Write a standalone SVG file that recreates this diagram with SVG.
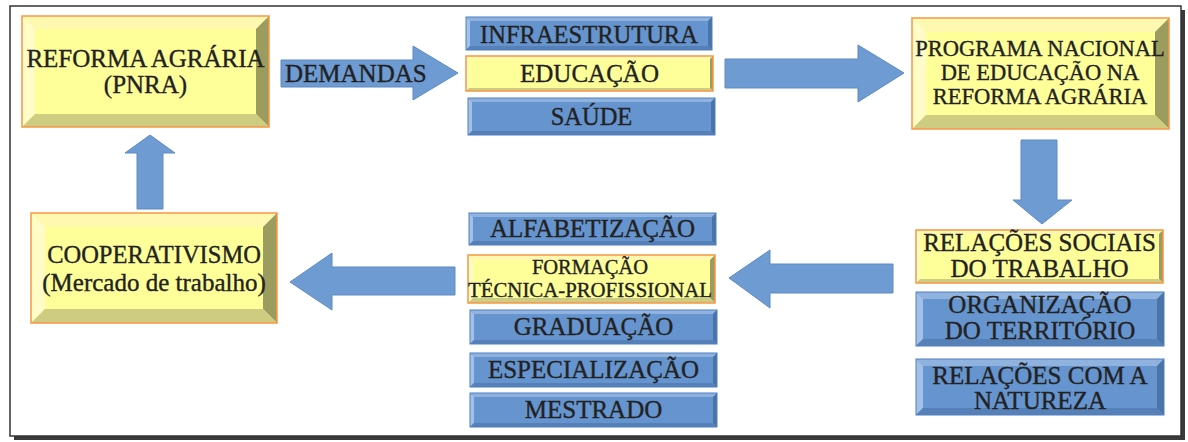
<svg xmlns="http://www.w3.org/2000/svg" width="1188" height="442" viewBox="0 0 1188 442">
<style>
.t{font-family:"Liberation Serif","Times New Roman",serif;fill:#222222;stroke:#222222;stroke-width:0.35;text-anchor:middle}
.yf{fill:#ffff99}.yt{fill:#fff8b0}.yl{fill:#fffcc8}.yr{fill:#9c9c5e}.yb{fill:#cdcc80}
.ybd{fill:none;stroke:#f79646;stroke-width:1.5}
.bf{fill:#6694ce}.bt{fill:#8fb2de}.bl{fill:#a3c0e6}.br{fill:#4a73a8}.bb{fill:#5680b8}
.bbd{fill:none;stroke:#4f7fbf;stroke-width:1}
.arr{fill:#6d9bd2;stroke:#5d8bc4;stroke-width:1}
</style>
<rect x="14" y="10" width="1171" height="430" fill="#3a3a3a"/>
<rect x="10" y="6" width="1171" height="430" fill="#ffffff" stroke="#333" stroke-width="1.5"/>

<g id="connectors">
<polygon class="arr" points="281,60 413,60 413,46 458,73 413,100 413,87 281,87"/>
<text class="t" x="285" y="82" font-size="25" style="text-anchor:start">DEMANDAS</text>
<polygon class="arr" points="725,59 858,59 858,45 904,73 858,102 858,88 725,88"/>
<polygon class="arr" points="1021,140 1057,140 1057,200 1072,200 1042,224 1013,200 1021,200"/>
<polygon class="arr" points="893,264 770,264 770,250 729,278 770,308 770,293 893,293"/>
<polygon class="arr" points="455,267 332,267 332,253 290,282 332,310 332,295 455,295"/>
<polygon class="arr" points="137,209 137,153 125,153 150,135 175,153 163,153 163,209"/>
</g>

<g id="reforma">
<rect class="yf" x="22" y="16" width="247" height="111"/>
<polygon class="yt" points="22,16 269,16 256,29 35,29"/>
<polygon class="yl" points="22,16 35,29 35,114 22,127"/>
<polygon class="yr" points="269,16 269,127 256,114 256,29"/>
<polygon class="yb" points="22,127 35,114 256,114 269,127"/>
<rect class="ybd" x="22" y="16" width="247" height="111"/>
<text class="t" x="145.5" y="67" font-size="25">REFORMA AGRÁRIA</text>
<text class="t" x="145.5" y="93" font-size="25">(PNRA)</text>
</g>

<g id="infraestrutura">
<rect class="bf" x="466" y="17" width="246" height="33"/>
<polygon class="bt" points="466,17 712,17 708,21 470,21"/>
<polygon class="bl" points="466,17 470,21 470,46 466,50"/>
<polygon class="br" points="712,17 712,50 708,46 708,21"/>
<polygon class="bb" points="466,50 470,46 708,46 712,50"/>
<rect class="bbd" x="466" y="17" width="246" height="33"/>
<text class="t" x="589" y="43" font-size="24.5">INFRAESTRUTURA</text>
</g>

<g id="educacao">
<rect class="yf" x="466" y="56" width="247" height="35"/>
<polygon class="yt" points="466,56 713,56 710,59 469,59"/>
<polygon class="yl" points="466,56 469,59 469,88 466,91"/>
<polygon class="yr" points="713,56 713,91 710,88 710,59"/>
<polygon class="yb" points="466,91 469,88 710,88 713,91"/>
<rect class="ybd" x="466" y="56" width="247" height="35"/>
<text class="t" x="589.5" y="82" font-size="25">EDUCAÇÃO</text>
</g>

<g id="saude">
<rect class="bf" x="468" y="98" width="247" height="37"/>
<polygon class="bt" points="468,98 715,98 711,102 472,102"/>
<polygon class="bl" points="468,98 472,102 472,131 468,135"/>
<polygon class="br" points="715,98 715,135 711,131 711,102"/>
<polygon class="bb" points="468,135 472,131 711,131 715,135"/>
<rect class="bbd" x="468" y="98" width="247" height="37"/>
<text class="t" x="591.5" y="125" font-size="24.5">SAÚDE</text>
</g>

<g id="programa">
<rect class="yf" x="912" y="18" width="257" height="111"/>
<polygon class="yt" points="912,18 1169,18 1155,32 926,32"/>
<polygon class="yl" points="912,18 926,32 926,115 912,129"/>
<polygon class="yr" points="1169,18 1169,129 1155,115 1155,32"/>
<polygon class="yb" points="912,129 926,115 1155,115 1169,129"/>
<rect class="ybd" x="912" y="18" width="257" height="111"/>
<text class="t" x="1040" y="56" font-size="22.5">PROGRAMA NACIONAL</text>
<text class="t" x="1040" y="80" font-size="22.5">DE EDUCAÇÃO NA</text>
<text class="t" x="1040" y="104" font-size="22.5">REFORMA AGRÁRIA</text>
</g>

<g id="relacoes-sociais">
<rect class="yf" x="916" y="230" width="247" height="53"/>
<polygon class="yt" points="916,230 1163,230 1159,234 920,234"/>
<polygon class="yl" points="916,230 920,234 920,279 916,283"/>
<polygon class="yr" points="1163,230 1163,283 1159,279 1159,234"/>
<polygon class="yb" points="916,283 920,279 1159,279 1163,283"/>
<rect class="ybd" x="916" y="230" width="247" height="53"/>
<text class="t" x="1039.5" y="251" font-size="25">RELAÇÕES SOCIAIS</text>
<text class="t" x="1039.5" y="277" font-size="25">DO TRABALHO</text>
</g>

<g id="organizacao">
<rect class="bf" x="916" y="292" width="248" height="54"/>
<polygon class="bt" points="916,292 1164,292 1157,299 923,299"/>
<polygon class="bl" points="916,292 923,299 923,339 916,346"/>
<polygon class="br" points="1164,292 1164,346 1157,339 1157,299"/>
<polygon class="bb" points="916,346 923,339 1157,339 1164,346"/>
<rect class="bbd" x="916" y="292" width="248" height="54"/>
<text class="t" x="1040" y="313" font-size="25">ORGANIZAÇÃO</text>
<text class="t" x="1040" y="339" font-size="25">DO TERRITÓRIO</text>
</g>

<g id="natureza">
<rect class="bf" x="916" y="359" width="248" height="56"/>
<polygon class="bt" points="916,359 1164,359 1157,366 923,366"/>
<polygon class="bl" points="916,359 923,366 923,408 916,415"/>
<polygon class="br" points="1164,359 1164,415 1157,408 1157,366"/>
<polygon class="bb" points="916,415 923,408 1157,408 1164,415"/>
<rect class="bbd" x="916" y="359" width="248" height="56"/>
<text class="t" x="1040" y="384" font-size="25">RELAÇÕES COM A</text>
<text class="t" x="1040" y="409" font-size="25">NATUREZA</text>
</g>

<g id="alfabetizacao">
<rect class="bf" x="469" y="213" width="247" height="32"/>
<polygon class="bt" points="469,213 716,213 712,217 473,217"/>
<polygon class="bl" points="469,213 473,217 473,241 469,245"/>
<polygon class="br" points="716,213 716,245 712,241 712,217"/>
<polygon class="bb" points="469,245 473,241 712,241 716,245"/>
<rect class="bbd" x="469" y="213" width="247" height="32"/>
<text class="t" x="592.5" y="237" font-size="25">ALFABETIZAÇÃO</text>
</g>

<g id="formacao">
<rect class="yf" x="468" y="255" width="247" height="48"/>
<polygon class="yt" points="468,255 715,255 710,260 473,260"/>
<polygon class="yl" points="468,255 473,260 473,298 468,303"/>
<polygon class="yr" points="715,255 715,303 710,298 710,260"/>
<polygon class="yb" points="468,303 473,298 710,298 715,303"/>
<rect class="ybd" x="468" y="255" width="247" height="48"/>
<text class="t" x="590" y="274" font-size="20.5">FORMAÇÃO</text>
<text class="t" x="590" y="297" font-size="20.8">TÉCNICA-PROFISSIONAL</text>
</g>

<g id="graduacao">
<rect class="bf" x="470" y="310" width="247" height="34"/>
<polygon class="bt" points="470,310 717,310 713,314 474,314"/>
<polygon class="bl" points="470,310 474,314 474,340 470,344"/>
<polygon class="br" points="717,310 717,344 713,340 713,314"/>
<polygon class="bb" points="470,344 474,340 713,340 717,344"/>
<rect class="bbd" x="470" y="310" width="247" height="34"/>
<text class="t" x="593.5" y="335" font-size="25">GRADUAÇÃO</text>
</g>

<g id="especializacao">
<rect class="bf" x="470" y="353" width="247" height="34"/>
<polygon class="bt" points="470,353 717,353 713,357 474,357"/>
<polygon class="bl" points="470,353 474,357 474,383 470,387"/>
<polygon class="br" points="717,353 717,387 713,383 713,357"/>
<polygon class="bb" points="470,387 474,383 713,383 717,387"/>
<rect class="bbd" x="470" y="353" width="247" height="34"/>
<text class="t" x="593.5" y="378" font-size="25">ESPECIALIZAÇÃO</text>
</g>

<g id="mestrado">
<rect class="bf" x="470" y="393" width="247" height="34"/>
<polygon class="bt" points="470,393 717,393 713,397 474,397"/>
<polygon class="bl" points="470,393 474,397 474,423 470,427"/>
<polygon class="br" points="717,393 717,427 713,423 713,397"/>
<polygon class="bb" points="470,427 474,423 713,423 717,427"/>
<rect class="bbd" x="470" y="393" width="247" height="34"/>
<text class="t" x="593.5" y="418" font-size="25">MESTRADO</text>
</g>

<g id="cooperativismo">
<rect class="yf" x="31" y="213" width="246" height="110"/>
<polygon class="yt" points="31,213 277,213 263,227 45,227"/>
<polygon class="yl" points="31,213 45,227 45,309 31,323"/>
<polygon class="yr" points="277,213 277,323 263,309 263,227"/>
<polygon class="yb" points="31,323 45,309 263,309 277,323"/>
<rect class="ybd" x="31" y="213" width="246" height="110"/>
<text class="t" x="154" y="263" font-size="24.5">COOPERATIVISMO</text>
<text class="t" x="154" y="291" font-size="25">(Mercado de trabalho)</text>
</g>
</svg>
